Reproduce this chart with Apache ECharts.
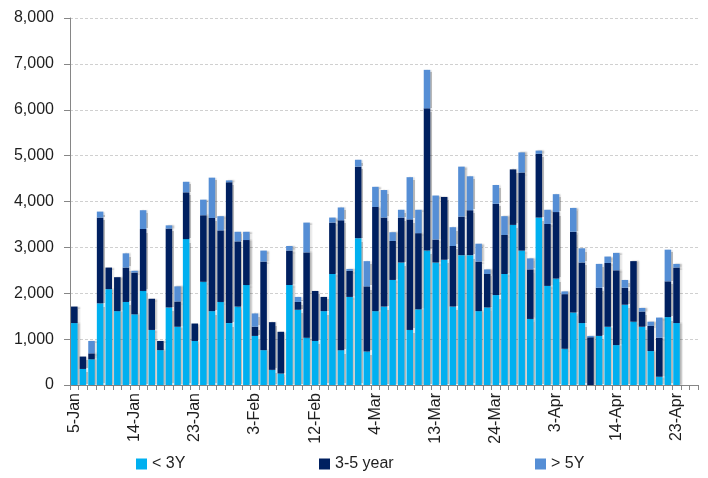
<!DOCTYPE html>
<html>
<head>
<meta charset="utf-8">
<script src="https://cdn.jsdelivr.net/npm/echarts@6/dist/echarts.min.js"></script>
<style>html,body{margin:0;padding:0;background:#fff;}#c{width:708px;height:478px;}</style>
</head>
<body>
<div id="c"></div>
<script>
const dates = [
 '5-Jan','6-Jan','7-Jan','8-Jan','9-Jan','12-Jan','13-Jan',
 '14-Jan','15-Jan','16-Jan','19-Jan','20-Jan','21-Jan','22-Jan',
 '23-Jan','26-Jan','27-Jan','28-Jan','29-Jan','30-Jan','2-Feb',
 '3-Feb','4-Feb','5-Feb','6-Feb','9-Feb','10-Feb','11-Feb',
 '12-Feb','13-Feb','16-Feb','17-Feb','26-Feb','2-Mar','3-Mar',
 '4-Mar','5-Mar','6-Mar','9-Mar','10-Mar','11-Mar','12-Mar',
 '13-Mar','16-Mar','17-Mar','18-Mar','19-Mar','20-Mar','23-Mar',
 '24-Mar','25-Mar','26-Mar','27-Mar','30-Mar','31-Mar','1-Apr',
 '3-Apr','6-Apr','7-Apr','8-Apr','9-Apr','10-Apr','13-Apr',
 '14-Apr','15-Apr','16-Apr','17-Apr','20-Apr','21-Apr','22-Apr',
 '23-Apr','24-Apr','27-Apr'
];
const under3Y = [1350,350,560,1780,2090,1610,1810,1540,2050,1200,760,1690,1270,3180,960,2250,1610,1810,1350,1710,2180,1070,760,330,250,2180,1640,1030,960,1610,2420,760,1920,3200,730,1610,1710,2290,2670,1200,1650,2930,2670,2730,1710,2830,2830,1610,1690,1960,2420,3490,2930,1440,3650,2160,2320,790,1580,1350,0,1070,1270,870,1750,1380,1270,740,180,1480,1350];
const y3to5 = [360,270,130,1870,470,740,750,910,1350,680,200,1720,550,1020,380,1450,2030,1560,3070,1420,980,200,1930,1040,910,750,170,1860,1090,310,1120,2830,570,1560,1420,2270,1940,850,980,2410,1660,3100,500,1370,1320,840,980,1080,730,1990,850,1210,1700,1080,1390,1350,1450,1190,1760,1320,1040,1050,1390,1630,370,1320,330,550,850,780,1210];
const over5Y = [0,0,270,130,0,0,310,40,410,0,0,70,330,230,0,340,880,310,40,210,180,290,240,0,0,100,110,650,0,0,110,280,40,150,550,440,600,190,170,920,510,840,960,0,410,1090,740,390,100,410,410,0,440,240,70,310,390,60,520,310,30,520,140,380,170,0,80,90,440,690,80];
const yTicks = [0,1000,2000,3000,4000,5000,6000,7000,8000];

const font = 'Liberation Sans';
const txt = '#1e1e1e';
const shadow = {shadowColor:'rgba(0,0,0,0.28)', shadowOffsetX:2, shadowOffsetY:0, shadowBlur:1.5};
function mk(name, data, color){
  return {name, type:'bar', stack:'t', data, barCategoryGap:'24%',
    itemStyle: Object.assign({color}, shadow), emphasis:{disabled:true}};
}
const chart = echarts.init(document.getElementById('c'), null, {renderer:'canvas'});
const legendBase = {bottom:1, itemWidth:11, itemHeight:11, icon:'rect', itemGap:4,
  textStyle:{fontFamily:font, fontSize:16, color:txt}, selectedMode:false};
chart.setOption({
  animation:false,
  grid:{left:70, right:10, top:18, bottom:93, containLabel:false},
  legend:[
    Object.assign({}, legendBase, {left:131, data:['< 3Y']}),
    Object.assign({}, legendBase, {left:314, data:['3-5 year']}),
    Object.assign({}, legendBase, {left:530, data:['> 5Y']})
  ],
  xAxis:{type:'category', data:dates, boundaryGap:true,
    axisLine:{lineStyle:{color:'#868686', width:1}},
    axisTick:{show:true, interval:0, length:5, lineStyle:{color:'#868686'}},
    axisLabel:{interval:6, rotate:90, margin:8, fontFamily:font, fontSize:16, color:txt}},
  yAxis:{type:'value', min:yTicks[0], max:yTicks[yTicks.length-1], interval:1000,
    axisLine:{show:true, lineStyle:{color:'#868686'}},
    axisTick:{show:true, length:6, inside:false, lineStyle:{color:'#868686'}},
    splitLine:{show:true, lineStyle:{color:'#d0d0d0', type:[3,2]}},
    axisLabel:{margin:16, fontFamily:font, fontSize:16, color:txt,
      formatter:v=>v.toLocaleString('en-US')}},
  series:[
    mk('< 3Y', under3Y, '#00B0F0'),
    mk('3-5 year', y3to5, '#002060'),
    mk('> 5Y', over5Y, '#558ED5')
  ]
});
</script>
</body>
</html>
